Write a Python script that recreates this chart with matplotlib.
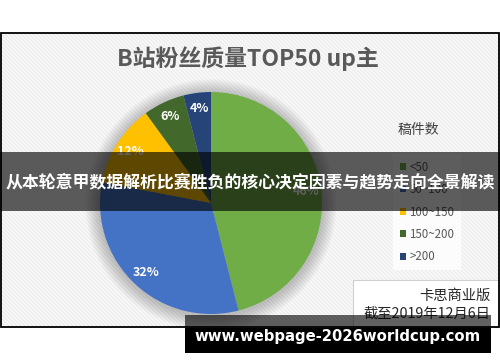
import matplotlib
matplotlib.use('Agg')
import matplotlib.pyplot as plt
from matplotlib.patches import Rectangle, Patch, Circle
from matplotlib.collections import LineCollection
import numpy as np

# ---- data ----
categories = ['<50', '50~100', '100~150', '150~200', '>200']
shares = [46, 32, 12, 6, 4]
colors = ['#70AD47', '#4472C4', '#FFC000', '#43682B', '#264478']
title = 'B站粉丝质量TOP50 up主'
legend_title = '稿件数'
note_lines = ['卡思商业版', '截至2019年12月6日']
banner = '从本轮意甲数据解析比赛胜负的核心决定因素与趋势走向全景解读'
url = 'www.webpage-2026worldcup.com'

W, H = 500, 362
CJK = ['Noto Sans CJK SC', 'DejaVu Sans']
plt.rcParams['font.family'] = CJK

fig = plt.figure(figsize=(5, 3.62), dpi=100)
fig.patch.set_facecolor('white')


def px_axes(z):
    ax = fig.add_axes([0, 0, 1, 1], zorder=z)
    ax.set_xlim(0, W)
    ax.set_ylim(H, 0)
    ax.axis('off')
    ax.patch.set_alpha(0)
    return ax


bg = px_axes(0)
fx0, fy0, fx1, fy1 = 0.5, 33, 499, 327
bgrect = Rectangle((fx0, fy0), fx1 - fx0, fy1 - fy0, facecolor='#f9f9f9', edgecolor='none')
bg.add_patch(bgrect)
segs = []
for c in np.arange(-320, 520, 4):
    segs.append([(c, fy0), (c + (fy1 - fy0), fy1)])
lc = LineCollection(segs, colors='#ececec', linewidths=0.8)
bg.add_collection(lc)
lc.set_clip_path(bgrect)
bg.add_patch(Rectangle((fx0, fy0), fx1 - fx0, fy1 - fy0, facecolor='none',
                       edgecolor='black', linewidth=1.3, zorder=10))

bg.text(248, 59, title, ha='center', va='center', fontsize=16.5, fontweight='bold',
        color='#595959')
bg.text(418, 130, legend_title, ha='center', va='center', fontsize=10, color='#404040')

handles = [Patch(facecolor=c, edgecolor='none') for c in colors]
leg = bg.legend(handles, categories, loc='upper left', bbox_to_anchor=(391 / W, 1 - 152 / H),
                bbox_transform=fig.transFigure, frameon=True, fancybox=False,
                fontsize=8.3, labelspacing=0.82, handlelength=0.55, handleheight=0.55,
                handletextpad=0.3, borderpad=0.55, borderaxespad=0.2, labelcolor='#595959')
leg.get_frame().set_facecolor('white')
leg.get_frame().set_edgecolor('none')

bg.add_patch(Rectangle((353, 280), 146, 47, facecolor='white', edgecolor='#d0d0d0',
                       linewidth=0.8, zorder=5))
bg.text(490, 296, note_lines[0], ha='right', va='center', fontsize=10.3, color='#262626', zorder=6)
bg.text(490, 314, note_lines[1], ha='right', va='center', fontsize=10.3, color='#262626', zorder=6)

# ---- pie ----
cx, cy, r = 211, 203, 111
pad = 1.15
R = r * pad
pax = fig.add_axes([(cx - R) / W, 1 - (cy + R) / H, 2 * R / W, 2 * R / H], zorder=1)
for i in range(12):
    pax.add_patch(Circle((0, -0.015), 1 + 0.011 * (12 - i), facecolor='black',
                         alpha=0.018, edgecolor='none'))
wedges, texts, autotexts = pax.pie(
    shares, colors=colors, startangle=90, counterclock=False,
    autopct=lambda p: f'{p:.0f}%', pctdistance=0.86,
    textprops=dict(color='white', fontsize=9, fontweight='bold'))
pax.set_xlim(-pad, pad)
pax.set_ylim(-pad, pad)
pax.axis('off')

# ---- overlay banners ----
ov = px_axes(3)
ov.add_patch(Rectangle((0, 152), W, 59, facecolor='black', alpha=0.63, edgecolor='none'))
ov.text(250, 182, banner, ha='center', va='center', fontsize=12.2, fontweight='bold',
        color='white')
ov.add_patch(Rectangle((185, 315), 306, 12.5, facecolor='black', alpha=0.62, edgecolor='none'))
ov.add_patch(Rectangle((185, 327.5), 306, 25, facecolor='black', edgecolor='none'))
ov.text(338, 337, url, ha='center', va='center', fontsize=10.7, fontweight='bold',
        color='white', family='DejaVu Sans')

fig.savefig('out.png', dpi=100)
